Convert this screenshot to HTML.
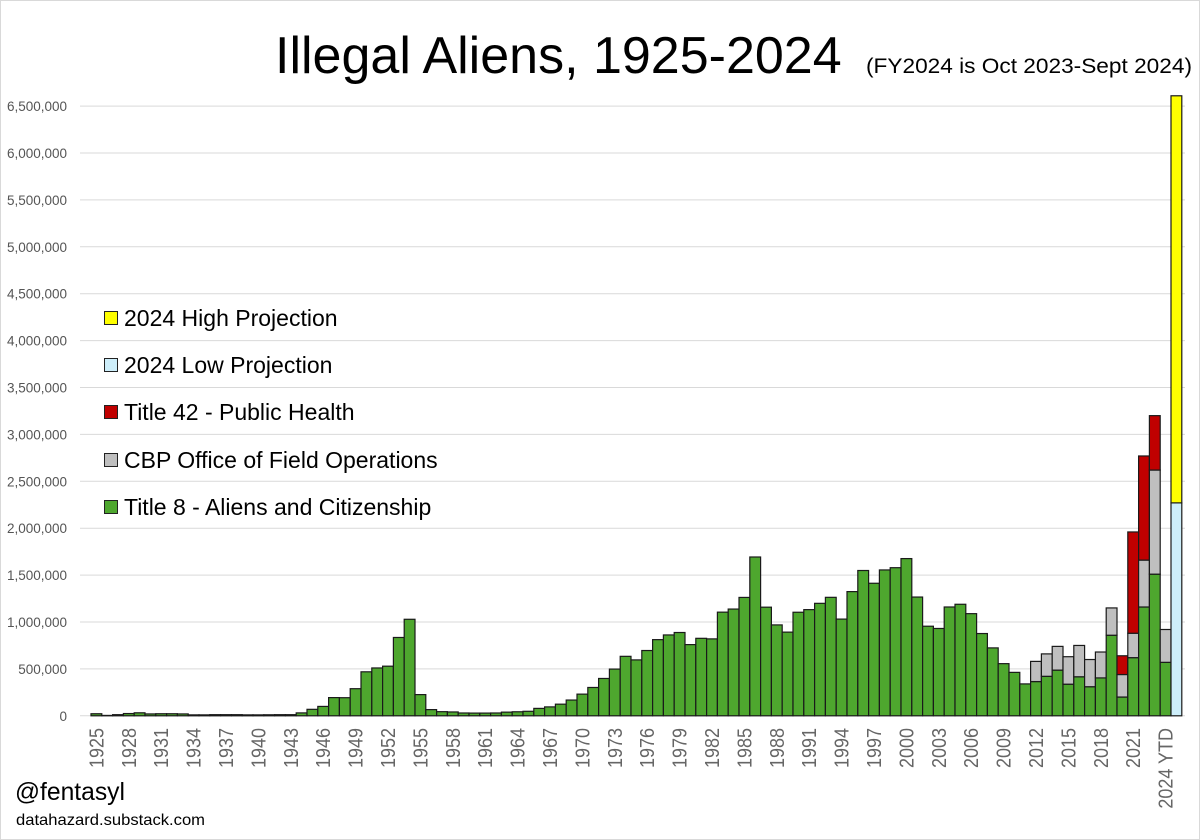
<!DOCTYPE html>
<html><head><meta charset="utf-8"><style>
html,body{margin:0;padding:0;background:#fff;}
#c{position:relative;width:1200px;height:840px;overflow:hidden;font-family:"Liberation Sans",sans-serif;}
</style></head><body><div id="c">
<svg id="s" width="1200" height="840" xmlns="http://www.w3.org/2000/svg" font-family="Liberation Sans, sans-serif">
<rect x="0.5" y="0.5" width="1199" height="839" fill="#fff" stroke="#d9d9d9"/>
<text x="275" y="73" font-size="52" fill="#000">Illegal Aliens, 1925-2024</text>
<text x="866" y="73" font-size="21" fill="#000" textLength="326" lengthAdjust="spacingAndGlyphs">(FY2024 is Oct 2023-Sept 2024)</text>
<g id="grid"></g><g id="bars"></g><g id="xl"></g>
<g font-size="23" fill="#000">
<rect x="104.5" y="311.5" width="13" height="13" fill="#ffff00" stroke="#222"/><text x="124" y="326">2024 High Projection</text>
<rect x="104.5" y="358.5" width="13" height="13" fill="#cdeefa" stroke="#222"/><text x="124" y="373">2024 Low Projection</text>
<rect x="104.5" y="405.5" width="13" height="13" fill="#c00000" stroke="#222"/><text x="124" y="420">Title 42 - Public Health</text>
<rect x="104.5" y="453.5" width="13" height="13" fill="#bfbfbf" stroke="#222"/><text x="124" y="468">CBP Office of Field Operations</text>
<rect x="104.5" y="500.5" width="13" height="13" fill="#4ea72e" stroke="#222"/><text x="124" y="515">Title 8 - Aliens and Citizenship</text>
</g>
<text x="15" y="800" font-size="25" fill="#000" textLength="110" lengthAdjust="spacingAndGlyphs">@fentasyl</text>
<text x="16" y="825" font-size="16" fill="#000" textLength="189" lengthAdjust="spacingAndGlyphs">datahazard.substack.com</text>
</svg></div>
<script>
var NS="http://www.w3.org/2000/svg";
function el(p,t,a,txt){var e=document.createElementNS(NS,t);for(var k in a)e.setAttribute(k,a[k]);if(txt)e.textContent=txt;p.appendChild(e);return e;}
var Z=715.8,K=46.9/500;
var g=document.getElementById('grid');
for(var i=0;i<=13;i++){var y=Z-i*46.9;
 if(i>0)el(g,'line',{x1:80,x2:1185,y1:y,y2:y,stroke:'#d9d9d9','stroke-width':1});
 var v=(i*500000).toLocaleString('en-US');
 el(g,'text',{x:67,y:y+5,'font-size':13.5,fill:'#555','text-anchor':'end'},v);}
el(g,'line',{x1:80,x2:1185,y1:Z,y2:Z,stroke:'#d9d9d9','stroke-width':1});
var G=[22,4,12,24,32,20,22,22,20,10,10,12,12,12,10,10,11,12,12,31,69,100,194,193,289,469,510,529,835,1029,226,66,44,41,30,29,29,30,39,43,48,79,95,124,168,231,302,398,498,634,596,696,812,862,888,759,826,820,1105,1138,1262,1693,1158,969,892,1104,1132,1199,1263,1031,1324,1549,1413,1555,1579,1676,1266,955,931,1160,1189,1089,877,724,556,463,340,365,421,487,337,416,310,404,859,200,620,1160,1510,570];
var GR={2012:580,2013:660,2014:740,2015:630,2016:750,2017:600,2018:680,2019:1150,2020:440,2021:880,2022:1660,2023:2620,2024:920};
var RD={2020:640,2021:1960,2022:2770,2023:3200};
var b=document.getElementById('bars'),W=10.8,X0=91;
function bar(i,v0,v1,f){var x=X0+i*W,y1=Z-v1*K,y0=Z-v0*K;el(b,'rect',{x:x,y:y1,width:W,height:y0-y1,fill:f,stroke:'#1a1a1a','stroke-width':1.2});}
for(var i=0;i<100;i++){var yr=1925+i;bar(i,0,G[i],'#4ea72e');
 if(GR[yr])bar(i,G[i],GR[yr],'#bfbfbf');
 if(RD[yr])bar(i,GR[yr],RD[yr],'#c00000');}
bar(100,0,2270,'#cdeefa');bar(100,2270,6610,'#ffff00');
var xl=document.getElementById('xl');
for(var i=0;i<100;i+=3){var yr=1925+i,cx=X0+i*W+W/2+7;
 var t=i==99?'2024 YTD':''+yr;
 el(xl,'text',{x:0,y:0,'font-size':20,fill:'#666','text-anchor':'end',transform:'translate('+cx+',728) rotate(-90) scale(0.9,1)'},t);}
</script>
</body></html>
